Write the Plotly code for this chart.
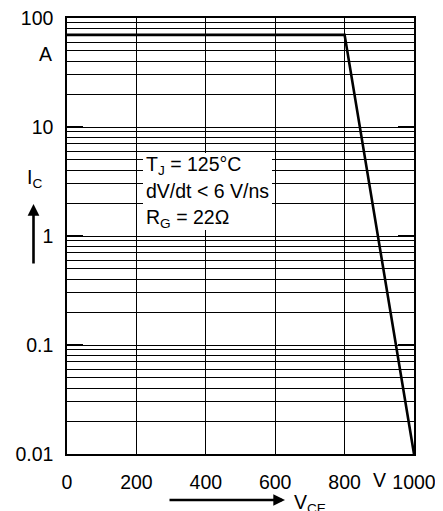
import plotly.graph_objects as go

# data
vce = [0, 800, 1000]
ic = [70, 70, 0.01]

x_ticks = [0, 200, 400, 600, 800, 1000]
x_labels = ["0", "200", "400", "600", "800", "1000"]
y_ticks = [0.01, 0.1, 1, 10, 100]
y_labels = ["0.01", "0.1", "1", "10", "100"]
y_minor = [m * d for d in [0.01, 0.1, 1, 10] for m in range(2, 10)]

FONT = "Liberation Sans, Arial, sans-serif"
FS = 19.5
OFF = 8  # default page body margin

fig = go.Figure()
fig.add_trace(go.Scatter(x=vce, y=ic, mode="lines",
                         line=dict(color="black", width=2.6),
                         hoverinfo="skip", showlegend=False))

fig.update_layout(
    width=443 - OFF, height=511 - OFF,
    margin=dict(l=67 - OFF, r=29, t=18 - OFF, b=57, pad=0),
    paper_bgcolor="white", plot_bgcolor="white",
    font=dict(family=FONT, size=FS, color="black"),
    showlegend=False,
)

fig.update_xaxes(
    range=[0, 1000], tickvals=x_ticks, ticktext=x_labels,
    showgrid=True, gridcolor="black", gridwidth=1.2,
    showline=True, linecolor="black", linewidth=1.5, mirror=True,
    ticks="", zeroline=False, ticklabelstandoff=10, automargin=False,
    ticklabeloverflow="allow",
)
fig.update_yaxes(
    type="log", range=[-2, 2], tickvals=y_ticks, ticktext=y_labels,
    showgrid=True, gridcolor="black", gridwidth=1.2,
    showline=True, linecolor="black", linewidth=1.5, mirror="ticks",
    ticks="inside", ticklen=16, tickwidth=2.2, tickcolor="black",
    ticklabelstandoff=8, automargin=False, ticklabeloverflow="allow",
    minor=dict(tickvals=y_minor, showgrid=True, gridcolor="black",
               gridwidth=1.2, ticks=""),
)

# white legend box
fig.add_shape(type="rect", xref="paper", yref="paper",
              x0=(143 - 67) / 347, x1=(272 - 67) / 347,
              y0=(454 - 230) / 436, y1=(454 - 153) / 436,
              fillcolor="white", line=dict(width=0), layer="above")

def pa(text, px, py, xanchor="left", yanchor="middle", size=FS):
    fig.add_annotation(text=text, xref="paper", yref="paper",
                       x=(px - 67) / 347, y=(454 - py) / 436,
                       xanchor=xanchor, yanchor=yanchor, showarrow=False,
                       font=dict(family=FONT, size=size, color="black"))

pa("T<sub>J</sub> = 125°C", 144, 166)
pa("dV/dt &lt; 6 V/ns", 144, 191)
pa("R<sub>G</sub> = 22Ω", 144, 218)

pa("A", 54, 54, xanchor="right")
pa("I<sub>C</sub>", 25, 179, xanchor="left")
pa("V", 371, 480, xanchor="left")
pa("V<sub>CE</sub>", 292, 503, xanchor="left")

# arrows
fig.add_annotation(xref="paper", yref="paper", axref="pixel", ayref="pixel",
                   x=(33.5 - 67) / 347, y=(454 - 204) / 436,
                   ax=0, ay=61,
                   showarrow=True, arrowhead=2, arrowsize=0.9, arrowwidth=2.6,
                   arrowcolor="black", text="")
fig.add_annotation(xref="paper", yref="paper", axref="pixel", ayref="pixel",
                   x=(285 - 67) / 347, y=(454 - 500) / 436,
                   ax=-117, ay=0,
                   showarrow=True, arrowhead=2, arrowsize=0.9, arrowwidth=2.6,
                   arrowcolor="black", text="")

fig.write_html("out.html")
